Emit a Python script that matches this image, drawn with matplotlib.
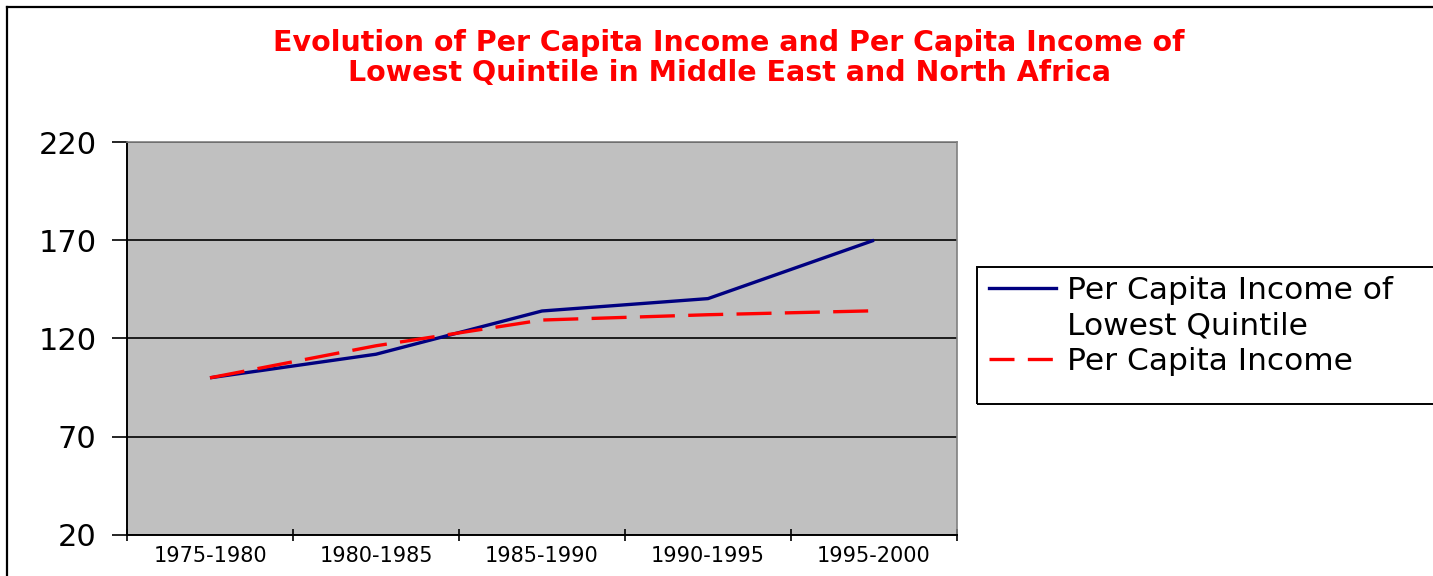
import numpy as np
import matplotlib.pyplot as plt
from matplotlib.lines import Line2D
from matplotlib.patches import Rectangle

plt.rcParams['font.family'] = ['DejaVu Sans']

# data
periods = ['1975-1980', '1980-1985', '1985-1990', '1990-1995', '1995-2000']
lowest_quintile = [100, 112, 134, 140.3, 170]
per_capita = [100, 116.3, 129.4, 132.1, 134.1]
yticks = [20, 70, 120, 170, 220]

W, H = 1433, 576
fig = plt.figure(figsize=(W / 100, H / 100), dpi=100)
ax = fig.add_axes([127 / W, 1 - 535 / H, 830 / W, 393 / H])
ax.set_facecolor('#c0c0c0')

x = np.arange(len(periods))
ax.plot(x, lowest_quintile, color='#000080', lw=2.4, solid_capstyle='butt',
        label='Per Capita Income of')
ax.plot(x, per_capita, color='#ff0000', lw=2.4, dashes=(10.5, 4),
        label='Per Capita Income')

ax.set_xlim(-0.5, len(periods) - 0.5)
ax.set_ylim(20, 220)
ax.set_yticks(yticks)
ax.yaxis.grid(True, color='black', lw=1.2)
ax.set_axisbelow(True)

# categories sit between tick marks
ax.set_xticks(np.arange(-0.5, len(periods)), minor=False)
ax.set_xticklabels([])
ax.set_xticks(x, minor=True)
ax.set_xticklabels(periods, minor=True, fontsize=15)
ax.tick_params(axis='x', which='major', direction='inout', length=9, width=1.2)
ax.tick_params(axis='x', which='minor', length=0, pad=8)
ax.tick_params(axis='y', direction='out', length=11, width=1.2, pad=11, labelsize=22)

for s in ['top', 'right']:
    ax.spines[s].set_color('#808080')
    ax.spines[s].set_linewidth(1.2)
for s in ['left', 'bottom']:
    ax.spines[s].set_color('black')
    ax.spines[s].set_linewidth(1.4)

fig.text(729 / W, 1 - 58 / H,
         'Evolution of Per Capita Income and Per Capita Income of\n'
         'Lowest Quintile in Middle East and North Africa',
         color='#ff0000', fontsize=20.5, fontweight='bold', ha='center', va='center',
         linespacing=1.12)

# outer chart frame
fig.add_artist(Line2D([7 / W, 7 / W], [0, 1 - 7 / H], transform=fig.transFigure,
                      color='black', lw=1.6))
fig.add_artist(Line2D([7 / W, 1], [1 - 7 / H, 1 - 7 / H], transform=fig.transFigure,
                      color='black', lw=1.6))

# legend box
fig.add_artist(Rectangle((977 / W, 1 - 404 / H), 0.5, 137 / H, transform=fig.transFigure,
                         fill=False, ec='black', lw=1.4))
handles = [Line2D([], [], color='#000080', lw=2.4),
           Line2D([], [], color='none'),
           Line2D([], [], color='#ff0000', lw=2.4, dashes=(7.5, 4))]
labels = ['Per Capita Income of', 'Lowest Quintile', 'Per Capita Income']
fig.legend(handles, labels, loc='upper left', bbox_to_anchor=(989 / W, 1 - 276 / H),
           frameon=False, fontsize=22.5, handlelength=2.15, handletextpad=0.35,
           labelspacing=0.2, borderpad=0, borderaxespad=0)

fig.savefig('out.png', dpi=100)
